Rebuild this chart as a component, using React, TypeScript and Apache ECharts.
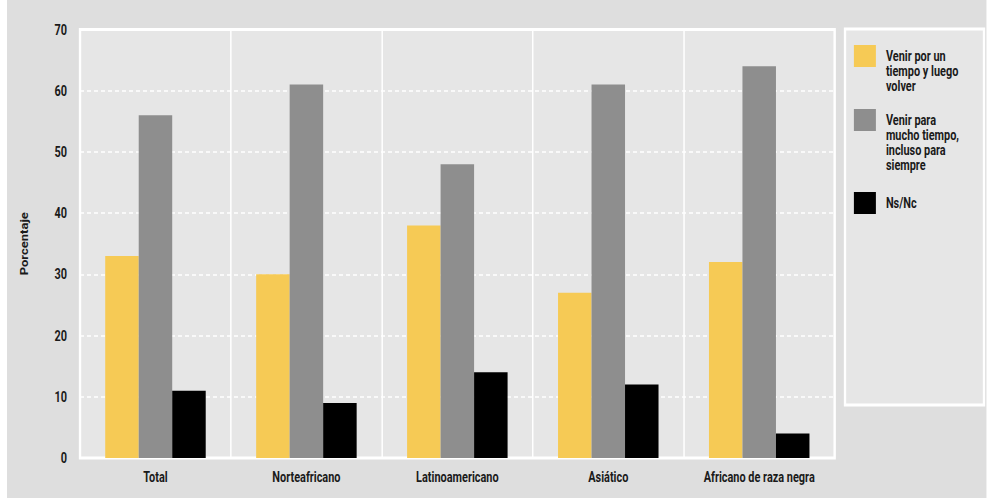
import React, { useEffect, useRef } from "react";
import * as echarts from "echarts";

const categories = ["Total", "Norteafricano", "Latinoamericano", "Asiático", "Africano de raza negra"];
const seriesNames = [
  "Venir por un\ntiempo y luego\nvolver",
  "Venir para\nmucho tiempo,\nincluso para\nsiempre",
  "Ns/Nc",
];
const volverValues = [33, 30, 38, 27, 32];
const muchoTiempoValues = [56, 61, 48, 61, 64];
const nsncValues = [11, 9, 14, 12, 4];
const yTicks = { min: 0, max: 70, interval: 10 };

const colors = ["#f6ca55", "#8e8e8e", "#000000"];
const FONT = 'Roboto, "Liberation Sans", sans-serif';
const TEXT = "#1a1a1a";

// The whole chart is laid out in a wider space and squeezed horizontally,
// which gives the narrow, condensed look of the reference lettering.
const S = 0.78;
const W = 980;
const H = 498;
const sx = (v: number) => v / S;

export default function App() {
  const ref = useRef<HTMLDivElement>(null);
  useEffect(() => {
    if (!ref.current) return;
    const chart = echarts.init(ref.current, null, { renderer: "svg" });
    const values = [volverValues, muchoTiempoValues, nsncValues];
    const legendTops = [13.5, 62.5, 187];
    chart.setOption({
      animation: false,
      backgroundColor: "#dedede",
      textStyle: { fontFamily: FONT },
      grid: {
        left: sx(73),
        top: 29.5,
        right: sx(152),
        bottom: 40,
        show: true,
        backgroundColor: "#e6e6e6",
        borderColor: "#ffffff",
        borderWidth: 3,
        outerBoundsMode: "none",
        containLabel: false,
      },
      legend: seriesNames.map((name, i) => ({
        data: [name],
        left: sx(843),
        top: legendTops[i],
        orient: "vertical",
        itemWidth: sx(22),
        itemHeight: 22,
        icon: "rect",
        selectedMode: false,
        formatter: (n: string) => "\n".repeat(n.split("\n").length - 1) + n,
        textStyle: {
          fontFamily: FONT,
          fontSize: 14,
          fontWeight: "bold",
          color: TEXT,
          lineHeight: 15,
          padding: [0, 0, 0, sx(10) - 5],
        },
      })),
      graphic: [
        {
          type: "rect",
          z: -1,
          shape: { x: sx(838), y: 29, width: sx(139), height: 376 },
          style: { fill: "#e6e6e6", stroke: "#ffffff", lineWidth: 3 },
          silent: true,
        },
      ],
      xAxis: {
        type: "category",
        data: categories,
        axisLine: { show: false },
        axisTick: { show: false },
        splitLine: { show: true, lineStyle: { color: "#ffffff", width: sx(1.5) } },
        axisLabel: { interval: 0, fontFamily: FONT, fontSize: 14, fontWeight: "bold", color: TEXT, margin: 11.5 },
      },
      yAxis: {
        type: "value",
        min: yTicks.min,
        max: yTicks.max,
        interval: yTicks.interval,
        name: "Porcentaje",
        nameLocation: "middle",
        nameRotate: 90,
        nameGap: 64,
        nameTextStyle: { fontFamily: FONT, fontSize: 13, fontWeight: "bold", color: TEXT },
        axisLine: { show: false },
        axisTick: { show: false },
        splitLine: { show: true, lineStyle: { color: "#ffffff", width: 1.5, type: [sx(4), sx(3)] } },
        axisLabel: { fontFamily: FONT, fontSize: 14, fontWeight: "bold", color: TEXT, margin: sx(13) },
      },
      series: seriesNames.map((name, i) => ({
        name,
        type: "bar",
        data: values[i],
        barWidth: sx(33.5),
        barGap: "0%",
        itemStyle: { color: colors[i] },
      })),
    });
    return () => chart.dispose();
  }, []);
  return (
    <div
      style={{ position: "absolute", left: 7, top: 0, width: W, height: H, overflow: "hidden" }}
    >
      <div
        ref={ref}
        style={{
          width: sx(W),
          height: H,
          transform: `scaleX(${S})`,
          transformOrigin: "0 0",
        }}
      />
    </div>
  );
}
